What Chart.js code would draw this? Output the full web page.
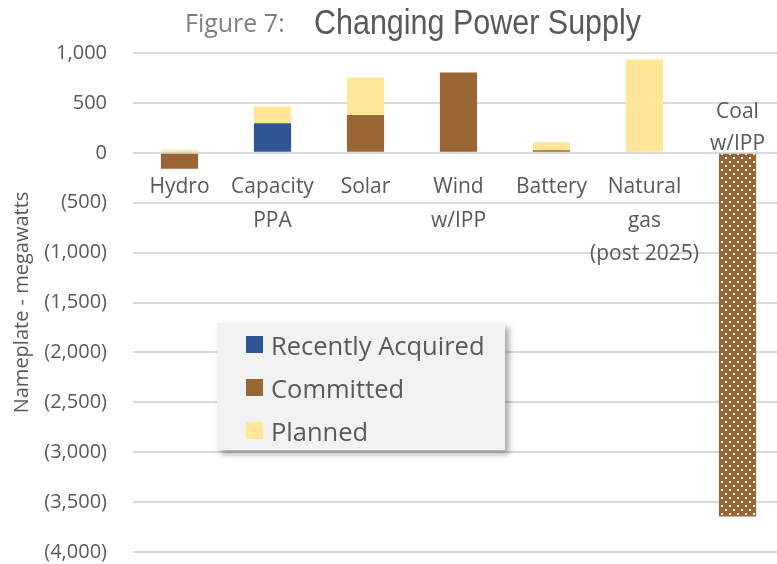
<!DOCTYPE html>
<html>
<head>
<meta charset="utf-8">
<script src="https://cdn.jsdelivr.net/npm/chart.js@4.4.1/dist/chart.umd.min.js"></script>
<style>
  html, body { margin: 0; padding: 0; background: #fff; overflow: hidden; }
  #wrap { position: relative; width: 784px; height: 564px; }
  #title { position: absolute; left: 185px; top: 5px; white-space: nowrap; }
  #title .fig { font-family: "Open Sans", sans-serif; font-size: 25px; color: #7f7f7f; vertical-align: baseline; }
  #title .main { display: inline-block; position: absolute; left: 129px; top: -3.5px; transform-origin: 0 0;
                 font-family: "Liberation Sans", Arial, sans-serif; font-size: 35px; color: #595959; }
  #legend { position: absolute; left: 217px; top: 323px; width: 288px; height: 127px; background: #f2f2f2;
            box-shadow: 4px 4px 6px rgba(0,0,0,0.35); box-sizing: border-box; padding-top: 0px; }
  #legend .item { display: flex; align-items: center; height: 43px; padding-left: 29px;
                  font-family: "Open Sans", sans-serif; font-size: 25.5px; color: #595959; }
  #legend .sw { width: 17px; height: 17px; margin-right: 8px; }
</style>
</head>
<body>
<div id="wrap">
  <canvas id="chart" width="784" height="564"></canvas>
  <div id="title"><span class="fig">Figure 7:</span><span class="main" id="mainTitle">Changing Power Supply</span></div>
  <div id="legend"></div>
</div>
<script>
/* --------------- Data --------------------- */
const categories = ["Hydro", ["Capacity", "PPA"], "Solar", ["Wind", "w/IPP"], "Battery", ["Natural", "gas", "(post 2025)"], ["Coal", "w/IPP"]];
const seriesNames = ["Recently Acquired", "Committed", "Planned"];
const recentlyAcquired = [0, 295, 15, 0, 0, 0, 0];
const committed = [-160, 0, 365, 805, 25, 0, -3645];
const planned = [30, 170, 375, 0, 80, 935, 0];
const yTicks = [-4000, -3500, -3000, -2500, -2000, -1500, -1000, -500, 0, 500, 1000];

const blue = "#2f5597";
const brown = "#996633";
const yellow = "#ffe699";
const textGray = "#595959";

/* --------------- Narrow title (no condensed font installed) --------------------- */
const mainTitle = document.getElementById("mainTitle");
mainTitle.style.transform = "scaleX(" + (327 / mainTitle.getBoundingClientRect().width) + ")";

/* --------------- Dotted fill for coal --------------------- */
const tile = document.createElement("canvas");
tile.width = 8;
tile.height = 8;
const tctx = tile.getContext("2d");
tctx.fillStyle = brown;
tctx.fillRect(0, 0, 8, 8);
tctx.fillStyle = "#ffffff";
tctx.fillRect(1, 1, 2, 2);
tctx.fillRect(5, 5, 2, 2);
const ctx = document.getElementById("chart").getContext("2d");
const dotted = ctx.createPattern(tile, "repeat");
const coalIndex = categories.length - 1;
const committedColors = categories.map((c, i) => i === coalIndex ? dotted : brown);

/* --------------- Coal label sits above the zero line --------------------- */
const coalLabel = {
  id: "coalLabel",
  afterDatasetsDraw(chart) {
    const c = chart.ctx;
    const x = chart.scales.x.getPixelForValue(coalIndex);
    const y0 = chart.scales.y.getPixelForValue(0);
    const lines = categories[coalIndex];
    c.save();
    c.font = "21px 'Open Sans'";
    c.fillStyle = textGray;
    c.textAlign = "center";
    c.textBaseline = "alphabetic";
    for (let i = 0; i < lines.length; i++) {
      c.fillText(lines[lines.length - 1 - i], x, y0 - 3 - i * 32);
    }
    c.restore();
  },
};

const fmt = (v) => {
  const s = Math.abs(v).toLocaleString("en-US");
  return v < 0 ? "(" + s + ")" : s;
};

const chart = new Chart(ctx, {
  type: "bar",
  plugins: [coalLabel],
  data: {
    labels: categories,
    datasets: [
      { label: seriesNames[0], data: recentlyAcquired, backgroundColor: blue },
      { label: seriesNames[1], data: committed, backgroundColor: committedColors },
      { label: seriesNames[2], data: planned, backgroundColor: yellow },
    ],
  },
  options: {
    responsive: false,
    animation: false,
    layout: { padding: { top: 53, bottom: 11, left: 0, right: 0 } },
    datasets: { bar: { categoryPercentage: 1, barPercentage: 0.4 } },
    plugins: {
      legend: { display: false },
      tooltip: { enabled: false },
    },
    scales: {
      x: {
        stacked: true,
        position: { y: 0 },
        afterFit: (scale) => { scale.height = 0; },
        grid: { display: false, drawTicks: false },
        border: { display: false },
        ticks: {
          color: textGray,
          font: { family: "Open Sans", size: 21, lineHeight: 1.58 },
          padding: 18,
          maxRotation: 0,
          autoSkip: false,
          callback: function (value, index) {
            return index === coalIndex ? "" : this.getLabelForValue(value);
          },
        },
      },
      y: {
        stacked: true,
        min: yTicks[0],
        max: yTicks[yTicks.length - 1],
        afterBuildTicks: (scale) => { scale.ticks = yTicks.map((v) => ({ value: v })); },
        afterFit: (scale) => { scale.width = 133; },
        grid: { color: "#d9d9d9", lineWidth: 2, drawTicks: true, tickLength: 26, tickColor: "rgba(0,0,0,0)" },
        border: { display: false },
        ticks: {
          color: textGray,
          font: { family: "Open Sans", size: 20 },
          padding: 0,
          callback: (v) => fmt(v),
        },
        title: {
          display: true,
          text: "Nameplate - megawatts",
          color: textGray,
          font: { family: "Open Sans", size: 20, lineHeight: 1.2 },
          padding: { top: 10, bottom: 0 },
        },
      },
    },
  },
});

/* --------------- Legend box --------------------- */
const legendBox = document.getElementById("legend");
chart.data.datasets.forEach((ds) => {
  const item = document.createElement("div");
  item.className = "item";
  const sw = document.createElement("div");
  sw.className = "sw";
  sw.style.background = Array.isArray(ds.backgroundColor) ? brown : ds.backgroundColor;
  const label = document.createElement("span");
  label.textContent = ds.label;
  item.appendChild(sw);
  item.appendChild(label);
  legendBox.appendChild(item);
});
</script>
</body>
</html>
